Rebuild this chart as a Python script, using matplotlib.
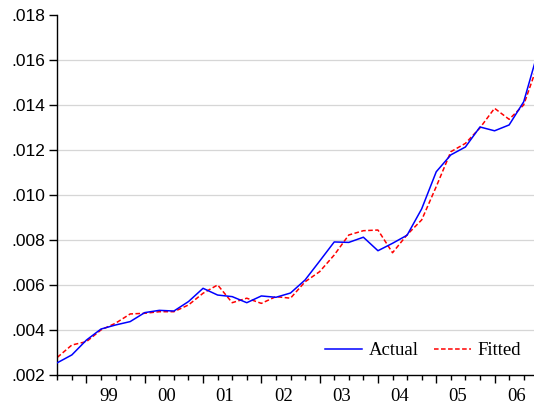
import numpy as np
import matplotlib
matplotlib.use("Agg")
import matplotlib.pyplot as plt

# quarterly observations, 1998Q3 .. 2006Q4
quarters = ["1998Q3", "1998Q4",
            "1999Q1", "1999Q2", "1999Q3", "1999Q4",
            "2000Q1", "2000Q2", "2000Q3", "2000Q4",
            "2001Q1", "2001Q2", "2001Q3", "2001Q4",
            "2002Q1", "2002Q2", "2002Q3", "2002Q4",
            "2003Q1", "2003Q2", "2003Q3", "2003Q4",
            "2004Q1", "2004Q2", "2004Q3", "2004Q4",
            "2005Q1", "2005Q2", "2005Q3", "2005Q4",
            "2006Q1", "2006Q2", "2006Q3", "2006Q4"]

actual = [0.00253, 0.00288,
          0.00354, 0.00403, 0.00421, 0.00436,
          0.00476, 0.00486, 0.00483, 0.00525,
          0.00584, 0.00554, 0.00547, 0.00520,
          0.00550, 0.00544, 0.00563, 0.00621,
          0.00705, 0.00790, 0.00788, 0.00811,
          0.00751, 0.00784, 0.00820, 0.00937,
          0.01102, 0.01177, 0.01212, 0.01301,
          0.01284, 0.01310, 0.01413, 0.01640]

fitted = [0.00277, 0.00332,
          0.00347, 0.00399, 0.00429, 0.00470,
          0.00473, 0.00480, 0.00480, 0.00510,
          0.00562, 0.00599, 0.00520, 0.00540,
          0.00517, 0.00547, 0.00540, 0.00613,
          0.00658, 0.00732, 0.00821, 0.00840,
          0.00843, 0.00742, 0.00822, 0.00888,
          0.01036, 0.01191, 0.01228, 0.01297,
          0.01384, 0.01335, 0.01399, 0.01585]

year_labels = ["99", "00", "01", "02", "03", "04", "05", "06"]
y_ticks = [0.002, 0.004, 0.006, 0.008, 0.010, 0.012, 0.014, 0.016, 0.018]

# quarter string -> decimal year position
t = np.array([int(q[:4]) + (int(q[-1]) - 1) / 4 for q in quarters])

fig = plt.figure(figsize=(5.34, 4.08), dpi=100)
ax = fig.add_axes([57.3 / 534, 33.3 / 408, 1 - 57.3 / 534, 360 / 408])

for v in y_ticks[1:-1]:
    ax.axhline(v, color="#d6d6d6", lw=0.9, zorder=0)

ax.plot(t, actual, color="#0000ff", lw=1.1, label="Actual", zorder=3)
ax.plot(t, fitted, color="#ff0000", lw=1.1, dashes=(3, 1.6), label="Fitted", zorder=2)

ax.set_xlim(1998.5, 1998.5 + 476.7 / 58.3)
ax.set_ylim(0.002, 0.018)

for s in ["top", "right"]:
    ax.spines[s].set_visible(False)
ax.spines["left"].set_linewidth(1.0)
ax.spines["bottom"].set_linewidth(1.0)

ax.set_yticks(y_ticks)
ax.set_yticklabels([f"{v:.3f}"[1:] for v in y_ticks],
                   fontfamily="Liberation Sans", fontsize=12.5)
ax.tick_params(axis="y", length=6, width=1, pad=3)

years = np.arange(1999, 2007)
ax.set_xticks(years)
ax.set_xticklabels([])
ax.set_xticks(np.arange(1998.5, 2006.7, 0.25), minor=True)
ax.tick_params(axis="x", which="major", length=6, width=1)
ax.tick_params(axis="x", which="minor", length=3.6, width=1)

for y, lab in zip(years, year_labels):
    ax.text(y + 0.375, -0.061, lab, transform=ax.get_xaxis_transform(),
            ha="center", va="center", fontfamily="Liberation Serif", fontsize=13.5)

ax.legend(loc="center right", bbox_to_anchor=(0.993, 0.067), ncol=2,
          frameon=False, borderpad=0, handlelength=2.0, handletextpad=0.35,
          columnspacing=0.8, prop={"family": "Liberation Serif", "size": 13.5})

fig.savefig("out.png", dpi=100)
